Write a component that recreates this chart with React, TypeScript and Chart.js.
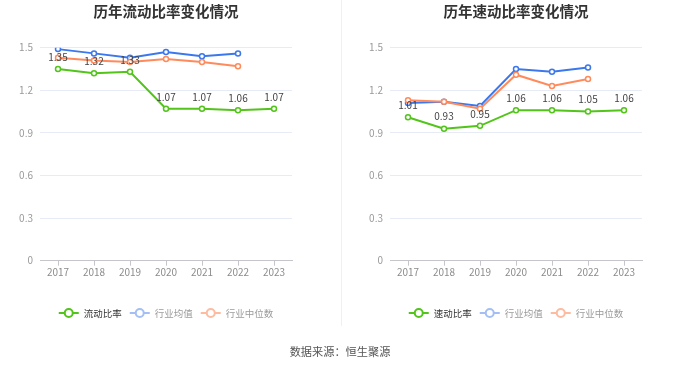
import React, { useEffect, useRef } from "react";
import { Chart, registerables } from "chart.js";

Chart.register(...registerables);

const years = ["2017", "2018", "2019", "2020", "2021", "2022", "2023"];
const currentRatio = [1.35, 1.32, 1.33, 1.07, 1.07, 1.06, 1.07];
const currentAvg = [1.49, 1.46, 1.43, 1.47, 1.44, 1.46, null];
const currentMedian = [1.43, 1.41, 1.4, 1.42, 1.4, 1.37, null];
const quickRatio = [1.01, 0.93, 0.95, 1.06, 1.06, 1.05, 1.06];
const quickAvg = [1.11, 1.12, 1.09, 1.35, 1.33, 1.36, null];
const quickMedian = [1.13, 1.12, 1.07, 1.31, 1.23, 1.28, null];
const yTicks = [0, 0.3, 0.6, 0.9, 1.2, 1.5];
const currentNames = ["流动比率", "行业均值", "行业中位数"];
const quickNames = ["速动比率", "行业均值", "行业中位数"];

const FONT = '"Noto Sans CJK SC", "Liberation Sans", sans-serif';
const GREEN = "#52c41a";
const BLUE = "#3b78ee";
const ORANGE = "#ff8a5b";
const LEGEND_ICON = ["#52c41a", "#a3bff5", "#fdbba0"];
const LEGEND_TEXT = ["#333333", "#9a9a9a", "#9a9a9a"];

type PanelProps = {
  title: string;
  names: string[];
  main: (number | null)[];
  avg: (number | null)[];
  median: (number | null)[];
  padLeft: number;
  padRight: number;
};

function Panel({ title, names, main, avg, median, padLeft, padRight }: PanelProps) {
  const ref = useRef<HTMLCanvasElement | null>(null);
  useEffect(() => {
    if (!ref.current) return;
    const labelPlugin = {
      id: "valueLabels",
      afterDatasetsDraw(chart: any) {
        const ctx = chart.ctx;
        const meta = chart.getDatasetMeta(0);
        ctx.save();
        ctx.font = `10px ${FONT}`;
        ctx.fillStyle = "#444";
        ctx.textAlign = "center";
        ctx.textBaseline = "middle";
        meta.data.forEach((pt: any, i: number) => {
          const v = main[i];
          if (v == null) return;
          ctx.fillText(v.toFixed(2), pt.x, pt.y - 12);
        });
        ctx.restore();
      },
    };
    const decorPlugin = {
      id: "decor",
      afterDraw(chart: any) {
        const ctx = chart.ctx;
        const area = chart.chartArea;
        const cx = (area.left + area.right) / 2;
        ctx.save();
        ctx.font = `bold 14.5px ${FONT}`;
        ctx.fillStyle = "#333";
        ctx.textAlign = "center";
        ctx.textBaseline = "middle";
        ctx.fillText(title, cx, 11);
        // legend
        ctx.font = `9.5px ${FONT}`;
        const iconW = 20;
        const gap = 5;
        const itemGap = 8;
        const widths = names.map((n) => ctx.measureText(n).width);
        const total =
          widths.reduce((a, b) => a + b, 0) + names.length * (iconW + gap) + (names.length - 1) * itemGap;
        let x = cx - total / 2;
        const y = 313;
        names.forEach((n, i) => {
          ctx.strokeStyle = LEGEND_ICON[i];
          ctx.lineWidth = 2;
          ctx.beginPath();
          ctx.moveTo(x, y);
          ctx.lineTo(x + iconW, y);
          ctx.stroke();
          ctx.beginPath();
          ctx.arc(x + iconW / 2, y, 4, 0, Math.PI * 2);
          ctx.fillStyle = "#fff";
          ctx.fill();
          ctx.stroke();
          ctx.fillStyle = LEGEND_TEXT[i];
          ctx.textAlign = "left";
          ctx.fillText(n, x + iconW + gap, y);
          x += iconW + gap + widths[i] + itemGap;
        });
        ctx.restore();
      },
    };
    const ds = (label: string, data: (number | null)[], color: string, order: number) => ({
      label,
      data,
      borderColor: color,
      backgroundColor: "#fff",
      borderWidth: 2,
      pointRadius: 2.5,
      pointBorderWidth: 1.5,
      pointBackgroundColor: "#fff",
      pointBorderColor: color,
      tension: 0,
      order,
      spanGaps: false,
    });
    const chart = new Chart(ref.current, {
      type: "line",
      data: {
        labels: years,
        datasets: [
          ds(names[0], main, GREEN, 2),
          ds(names[1], avg, BLUE, 1),
          ds(names[2], median, ORANGE, 0),
        ],
      },
      options: {
        animation: false,
        responsive: false,
        devicePixelRatio: 1,
        layout: { padding: { top: 47.7, left: padLeft, right: padRight, bottom: 76.3 } },
        plugins: {
          legend: { display: false },
          title: { display: false },
          tooltip: { enabled: false },
        },
        scales: {
          x: {
            type: "category",
            offset: true,
            afterFit: (s: any) => {
              s.height = 30;
            },
            grid: {
              offset: false,
              drawOnChartArea: false,
              drawTicks: true,
              tickLength: 5,
              color: "#c4c6cc",
            },
            border: { display: true, color: "#c4c6cc", width: 1 },
            ticks: {
              color: "#8c8c8c",
              font: { family: FONT, size: 10 },
              padding: 1,
              maxRotation: 0,
              autoSkip: false,
            },
          },
          y: {
            min: 0,
            max: 1.5,
            afterFit: (s: any) => {
              s.width = 40;
            },
            afterBuildTicks: (s: any) => {
              s.ticks = yTicks.map((v) => ({ value: v }));
            },
            grid: { color: "#e6ebf5", drawTicks: false, lineWidth: 1 },
            border: { display: false },
            ticks: {
              color: "#999",
              padding: 7,
              font: { family: FONT, size: 10 },
              callback: (v: any) => (Number(v) === 0 ? "0" : Number(v).toFixed(1)),
            },
          },
        },
      } as any,
      plugins: [labelPlugin, decorPlugin],
    });
    return () => chart.destroy();
  }, []);
  return <canvas ref={ref} width={340} height={367} style={{ display: "block", width: 340, height: 367 }} />;
}

export default function App() {
  return (
    <div
      style={{
        position: "fixed",
        left: 0,
        top: 0,
        width: 680,
        height: 367,
        background: "#fff",
        overflow: "hidden",
      }}
    >
      <div style={{ position: "absolute", left: 0, top: 0 }}>
        <Panel
          title="历年流动比率变化情况"
          names={currentNames}
          main={currentRatio}
          avg={currentAvg}
          median={currentMedian}
          padLeft={0}
          padRight={48}
        />
      </div>
      <div style={{ position: "absolute", left: 340, top: 0 }}>
        <Panel
          title="历年速动比率变化情况"
          names={quickNames}
          main={quickRatio}
          avg={quickAvg}
          median={quickMedian}
          padLeft={10}
          padRight={38}
        />
      </div>
      <div
        style={{
          position: "absolute",
          left: 340.5,
          top: 0,
          width: 1.5,
          height: 326,
          background: "#f0f0f0",
        }}
      />
      <div
        style={{
          position: "absolute",
          left: 0,
          top: 343,
          width: 680,
          textAlign: "center",
          fontFamily: FONT,
          fontSize: "11.2px",
          lineHeight: "16px",
          color: "#555",
        }}
      >
        数据来源：恒生聚源
      </div>
    </div>
  );
}
